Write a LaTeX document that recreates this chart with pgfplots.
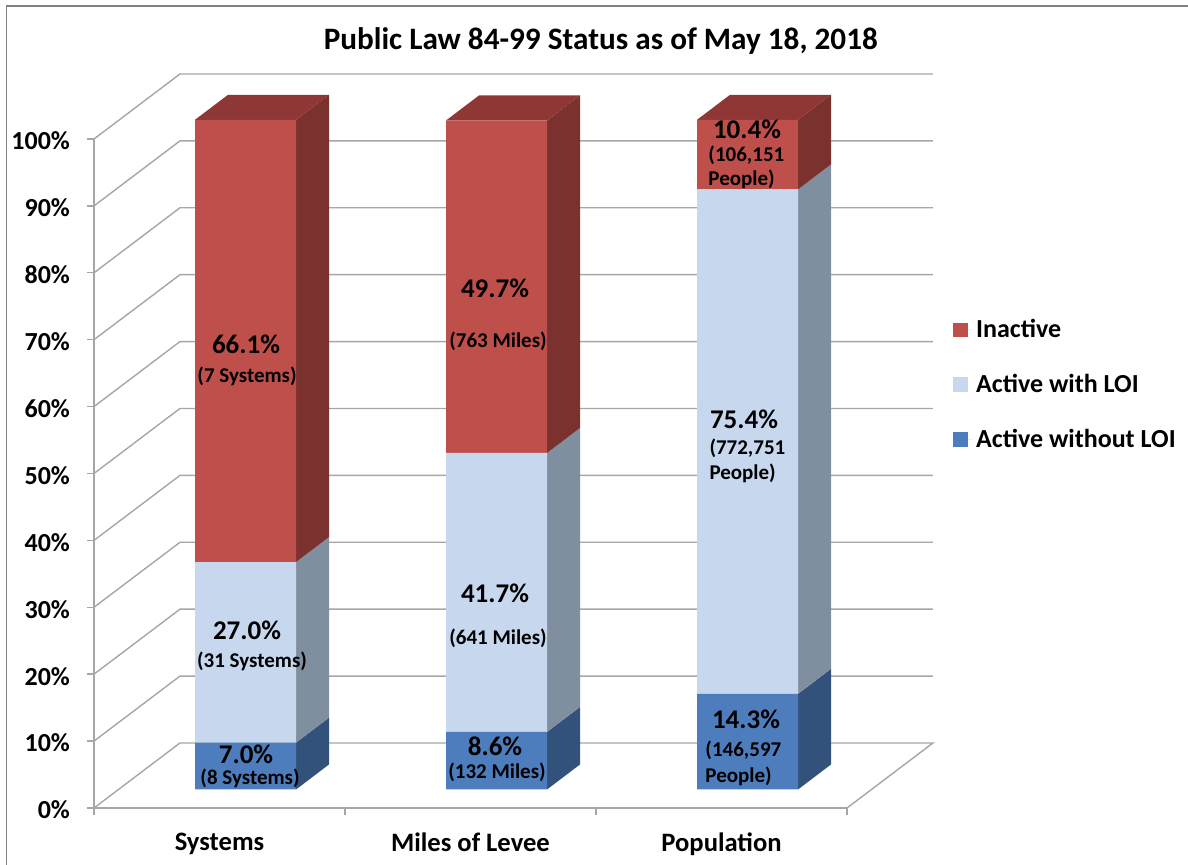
\documentclass[border=0pt]{standalone}
\usepackage{fontspec}
\setmainfont{Carlito}
\usepackage{pgfplots}
\pgfplotsset{compat=1.18}

\definecolor{wall}{HTML}{A6A6A6}
\definecolor{redF}{HTML}{BE4F4B}
\definecolor{redS}{HTML}{7B312E}
\definecolor{redT}{HTML}{8F3734}
\definecolor{ltF}{HTML}{C6D7EE}
\definecolor{ltS}{HTML}{7F8FA0}
\definecolor{blF}{HTML}{4E7DBD}
\definecolor{blS}{HTML}{32527C}

% 1 reference pixel = 0.5pt
\pgfplotsset{
  bars3d/.style={
    scale only axis, width=376.5pt, height=334.5pt,
    xmin=0, xmax=3, ymin=0, ymax=100,
    at={(60pt,37.75pt)}, anchor=south west,
    hide axis, clip=false,
  },
}
\newcommand{\pct}[1]{\fontsize{13.5}{15}\selectfont\bfseries #1}
\newcommand{\cnt}[1]{\fontsize{10.5}{12}\selectfont\bfseries #1}

\begin{document}
\begin{tikzpicture}
\useasboundingbox (0,0) rectangle (594pt,432.5pt);
\draw[color=gray, line width=0.7pt] (3.2pt,0) -- (3.2pt,429.5pt) -- (594pt,429.5pt);

% walls, floor and the two axes
\begin{axis}[
    scale only axis, width=376.5pt, height=334.5pt,
    at={(47pt,28.5pt)}, anchor=south west,
    xmin=0, xmax=3, ymin=0, ymax=100,
    clip=false,
    axis x line*=bottom, axis y line*=left,
    axis line style={color=wall, line width=0.8pt, -},
    tick style={color=wall, line width=0.7pt},
    tick align=outside, major tick length=3.5pt,
    xtick={0,1,2,3}, xticklabels={},
    extra x ticks={0.5,1.5,2.5},
    extra x tick labels={Systems,Miles of Levee,Population},
    extra x tick style={major tick length=0pt},
    ytick={0,10,...,100},
    yticklabels={0\%,10\%,20\%,30\%,40\%,50\%,60\%,70\%,80\%,90\%,100\%},
    yticklabel style={font=\fontsize{13}{15}\selectfont\bfseries, xshift=-5pt, yshift=-1pt},
    xticklabel style={font=\fontsize{13.3}{15}\selectfont\bfseries, yshift=-9pt},
    title={Public Law 84-99 Status as of May 18, 2018},
    title style={at={(0.673,1.128)}, anchor=center, font=\fontsize{15.6}{18}\selectfont\bfseries},
]
\addplot[wall, line width=0.7pt, forget plot] coordinates {
  (0,0)(0.3426,9.72)(3.3426,9.72)(3,0)
};
\addplot[wall, line width=0.7pt, forget plot] coordinates {(0,10)(0.3426,19.72)(3.3426,19.72)};
\addplot[wall, line width=0.7pt, forget plot] coordinates {(0,20)(0.3426,29.72)(3.3426,29.72)};
\addplot[wall, line width=0.7pt, forget plot] coordinates {(0,30)(0.3426,39.72)(3.3426,39.72)};
\addplot[wall, line width=0.7pt, forget plot] coordinates {(0,40)(0.3426,49.72)(3.3426,49.72)};
\addplot[wall, line width=0.7pt, forget plot] coordinates {(0,50)(0.3426,59.72)(3.3426,59.72)};
\addplot[wall, line width=0.7pt, forget plot] coordinates {(0,60)(0.3426,69.72)(3.3426,69.72)};
\addplot[wall, line width=0.7pt, forget plot] coordinates {(0,70)(0.3426,79.72)(3.3426,79.72)};
\addplot[wall, line width=0.7pt, forget plot] coordinates {(0,80)(0.3426,89.72)(3.3426,89.72)};
\addplot[wall, line width=0.7pt, forget plot] coordinates {(0,90)(0.3426,99.72)(3.3426,99.72)};
\addplot[wall, line width=0.7pt, forget plot] coordinates {(0,100)(0.3426,109.72)(3.3426,109.72)};
\end{axis}

% side and top faces of the bars
\begin{axis}[bars3d]
% Systems
\addplot[fill=blS, draw=none] coordinates {(0.7012,0)(0.8327,3.74)(0.8327,10.74)(0.7012,7)} -- cycle;
\addplot[fill=ltS, draw=none] coordinates {(0.7012,7)(0.8327,10.74)(0.8327,37.74)(0.7012,34)} -- cycle;
\addplot[fill=redS, draw=none] coordinates {(0.7012,34)(0.8327,37.74)(0.8327,103.84)(0.7012,100.1)} -- cycle;
\addplot[fill=redT, draw=none] coordinates {(0.2988,100.1)(0.7012,100.1)(0.8327,103.84)(0.4303,103.84)} -- cycle;
% Miles of Levee
\addplot[fill=blS, draw=none] coordinates {(1.7012,0)(1.8327,3.74)(1.8327,12.34)(1.7012,8.6)} -- cycle;
\addplot[fill=ltS, draw=none] coordinates {(1.7012,8.6)(1.8327,12.34)(1.8327,54.04)(1.7012,50.3)} -- cycle;
\addplot[fill=redS, draw=none] coordinates {(1.7012,50.3)(1.8327,54.04)(1.8327,103.74)(1.7012,100)} -- cycle;
\addplot[fill=redT, draw=none] coordinates {(1.2988,100)(1.7012,100)(1.8327,103.74)(1.4303,103.74)} -- cycle;
% Population
\addplot[fill=blS, draw=none] coordinates {(2.7012,0)(2.8327,3.74)(2.8327,18.04)(2.7012,14.3)} -- cycle;
\addplot[fill=ltS, draw=none] coordinates {(2.7012,14.3)(2.8327,18.04)(2.8327,93.44)(2.7012,89.7)} -- cycle;
\addplot[fill=redS, draw=none] coordinates {(2.7012,89.7)(2.8327,93.44)(2.8327,103.84)(2.7012,100.1)} -- cycle;
\addplot[fill=redT, draw=none] coordinates {(2.2988,100.1)(2.7012,100.1)(2.8327,103.84)(2.4303,103.84)} -- cycle;
\end{axis}

% front faces and legend
\begin{axis}[
    bars3d,
    ybar stacked, bar width=0.4024,
    area legend,
    reverse legend,
    legend cell align=left,
    legend image code/.code={\fill[#1] (0pt,-3.7pt) rectangle (7.5pt,3.7pt); \path (0pt,0pt) -- (9.5pt,0pt);},
    legend style={
      at={(1.098,0.605)}, anchor=west, draw=none, fill=none,
      font=\fontsize{13}{15}\selectfont\bfseries,
      row sep=12.75pt,
    },
]
\addplot[fill=blF, draw=none] coordinates {(0.5,7.0)(1.5,8.6)(2.5,14.3)};
\addplot[fill=ltF, draw=none] coordinates {(0.5,27.0)(1.5,41.7)(2.5,75.4)};
\addplot[fill=redF, draw=none] coordinates {(0.5,66.1)(1.5,49.7)(2.5,10.4)};
\legend{Active without LOI,Active with LOI,Inactive}
\end{axis}

% value labels, on top of the bars
\begin{axis}[bars3d]
\node at (axis cs:0.502,66.5) {\pct{66.1\%}};
\node at (axis cs:0.506,61.7) {\cnt{(7 Systems)}};
\node at (axis cs:0.506,23.8) {\pct{27.0\%}};
\node at (axis cs:0.526,19.1) {\cnt{(31 Systems)}};
\node at (axis cs:0.502,5.2) {\pct{7.0\%}};
\node at (axis cs:0.518,1.6) {\cnt{(8 Systems)}};

\node at (axis cs:1.494,74.9) {\pct{49.7\%}};
\node at (axis cs:1.506,67.0) {\cnt{(763 Miles)}};
\node at (axis cs:1.494,29.3) {\pct{41.7\%}};
\node at (axis cs:1.506,22.6) {\cnt{(641 Miles)}};
\node at (axis cs:1.494,6.4) {\pct{8.6\%}};
\node at (axis cs:1.502,2.5) {\cnt{(132 Miles)}};

\node at (axis cs:2.498,98.7) {\pct{10.4\%}};
\node[anchor=west, inner sep=0pt] at (axis cs:2.343,94.8) {\cnt{(106,151}};
\node[anchor=west, inner sep=0pt] at (axis cs:2.343,91.2) {\cnt{People)}};
\node at (axis cs:2.486,55.3) {\pct{75.4\%}};
\node[anchor=west, inner sep=0pt] at (axis cs:2.347,51.0) {\cnt{(772,751}};
\node[anchor=west, inner sep=0pt] at (axis cs:2.347,47.2) {\cnt{People)}};
\node at (axis cs:2.494,10.5) {\pct{14.3\%}};
\node[anchor=west, inner sep=0pt] at (axis cs:2.331,5.8) {\cnt{(146,597}};
\node[anchor=west, inner sep=0pt] at (axis cs:2.331,1.9) {\cnt{People)}};
\end{axis}
\end{tikzpicture}
\end{document}
